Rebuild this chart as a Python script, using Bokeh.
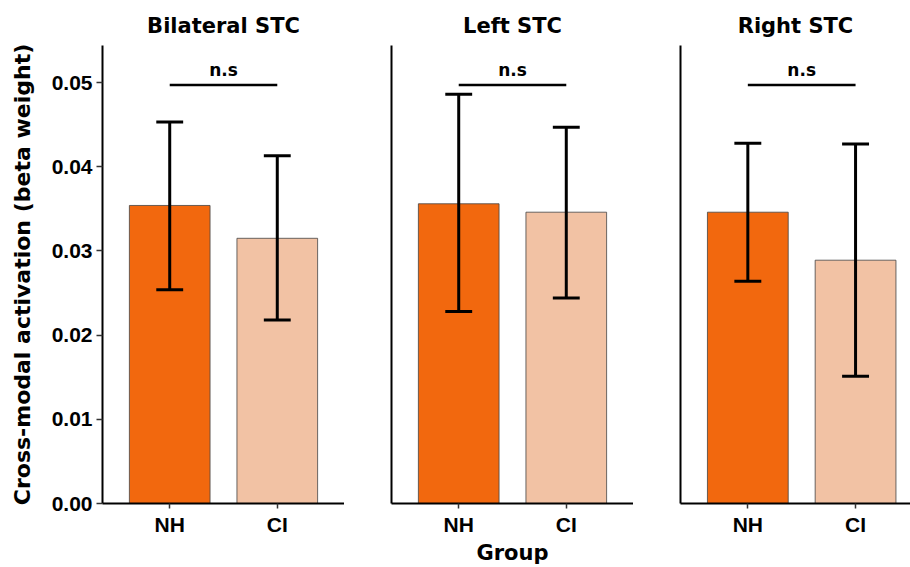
from bokeh.plotting import figure
from bokeh.layouts import row
from bokeh.models import Range1d, FixedTicker
from bokeh.core.properties import value
from bokeh.embed import file_html
from bokeh.resources import INLINE

# ---- data ----
panel_titles = ["Bilateral STC", "Left STC", "Right STC"]
groups = ["NH", "CI"]
bilateral_mean = [0.0354, 0.0315]
bilateral_low = [0.0254, 0.0218]
bilateral_high = [0.0453, 0.0413]
left_mean = [0.0356, 0.0346]
left_low = [0.0228, 0.0244]
left_high = [0.0486, 0.0447]
right_mean = [0.0346, 0.0289]
right_low = [0.0264, 0.0151]
right_high = [0.0428, 0.0427]
ns_y = 0.0497
ns_text = "n.s"
y_ticks = [0.00, 0.01, 0.02, 0.03, 0.04, 0.05]
y_tick_labels = ["0.00", "0.01", "0.02", "0.03", "0.04", "0.05"]

bar_colors = ["#F2680E", "#F2C2A4"]
TITLE_FONT = "DejaVu Sans"
TICK_FONT = "Liberation Sans"

means = [bilateral_mean, left_mean, right_mean]
lows = [bilateral_low, left_low, right_low]
highs = [bilateral_high, left_high, right_high]

xs = [i + 1 for i in range(len(groups))]

H = 567
TOP = 0
BOTTOM = 62
layout_specs = [
    dict(width=344, left=102, xend=2.625, ylab=True, xlab=""),
    dict(width=289, left=47, xend=2.625, ylab=False, xlab="Group"),
    dict(width=277, left=47, xend=2.51, ylab=False, xlab=""),
]

figs = []
for k, spec in enumerate(layout_specs):
    p = figure(width=spec["width"], height=H, output_backend="svg",
               toolbar_location=None,
               x_range=Range1d(0.375, spec["xend"]),
               y_range=Range1d(0, 0.0544),
               min_border_left=spec["left"], min_border_right=0,
               min_border_top=TOP, min_border_bottom=BOTTOM)
    p.outline_line_color = None
    p.xgrid.visible = False
    p.ygrid.visible = False
    p.background_fill_color = "white"
    p.border_fill_color = "white"

    p.title.text = panel_titles[k]
    p.title.align = "center"
    p.title.text_font = TITLE_FONT
    p.title.text_font_style = "bold"
    p.title.text_font_size = "21px"
    p.title.text_color = "black"
    p.title.standoff = 15
    p.title.padding = dict(left=0, right=0, top=4, bottom=0)

    # bars
    p.vbar(x=xs, top=means[k], bottom=0, width=0.75, fill_color=bar_colors,
           line_color="#444444", line_width=0.8)
    # error bars
    p.segment(x0=xs, x1=xs, y0=lows[k], y1=highs[k], line_color="black", line_width=3)
    cap_l = [x - 0.125 for x in xs]
    cap_r = [x + 0.125 for x in xs]
    p.segment(x0=cap_l, x1=cap_r, y0=lows[k], y1=lows[k], line_color="black", line_width=3)
    p.segment(x0=cap_l, x1=cap_r, y0=highs[k], y1=highs[k], line_color="black", line_width=3)
    # significance bracket
    p.segment(x0=[xs[0]], x1=[xs[-1]], y0=[ns_y], y1=[ns_y], line_color="black", line_width=2.5)
    p.text(x=[(xs[0] + xs[-1]) / 2], y=[ns_y], text=[ns_text], text_align="center",
           text_baseline="bottom", y_offset=-5, text_font=value(TITLE_FONT),
           text_font_style="bold", text_font_size="17px", text_color="black")

    # x axis
    xa = p.xaxis[0]
    xa.ticker = FixedTicker(ticks=xs)
    xa.major_label_overrides = {x: g for x, g in zip(xs, groups)}
    xa.minor_tick_line_color = None
    xa.major_tick_in = 0
    xa.major_tick_out = 5
    xa.major_tick_line_color = "#333333"
    xa.major_tick_line_width = 1.5
    xa.axis_line_color = "black"
    xa.axis_line_width = 2
    xa.major_label_text_font = TICK_FONT
    xa.major_label_text_font_style = "bold"
    xa.major_label_text_font_size = "21px"
    xa.major_label_text_color = "black"
    xa.major_label_standoff = 4
    xa.axis_label = spec["xlab"] if spec["xlab"] else None
    xa.axis_label_text_font = TITLE_FONT
    xa.axis_label_text_font_style = "bold"
    xa.axis_label_text_font_size = "21px"
    xa.axis_label_text_color = "black"
    xa.axis_label_standoff = 2

    ya = p.yaxis[0]
    ya.axis_line_color = "black"
    ya.axis_line_width = 2
    ya.minor_tick_line_color = None
    if spec["ylab"]:
        ya.ticker = FixedTicker(ticks=y_ticks)
        ya.major_label_overrides = {t: s for t, s in zip(y_ticks, y_tick_labels)}
        ya.major_tick_in = 0
        ya.major_tick_out = 6
        ya.major_tick_line_color = "#333333"
        ya.major_tick_line_width = 1.5
        ya.major_label_text_font = TICK_FONT
        ya.major_label_text_font_style = "bold"
        ya.major_label_text_font_size = "21px"
        ya.major_label_text_color = "black"
        ya.major_label_standoff = 4
        ya.axis_label = "Cross-modal activation (beta weight)"
        ya.axis_label_text_font = TITLE_FONT
        ya.axis_label_text_font_style = "bold"
        ya.axis_label_text_font_size = "22px"
        ya.axis_label_text_color = "black"
        ya.axis_label_standoff = 14
    else:
        ya.ticker = FixedTicker(ticks=[])
        ya.major_tick_line_color = None
    figs.append(p)

layout = row(*figs, spacing=0)
open("out.html", "w").write(file_html(layout, INLINE))
